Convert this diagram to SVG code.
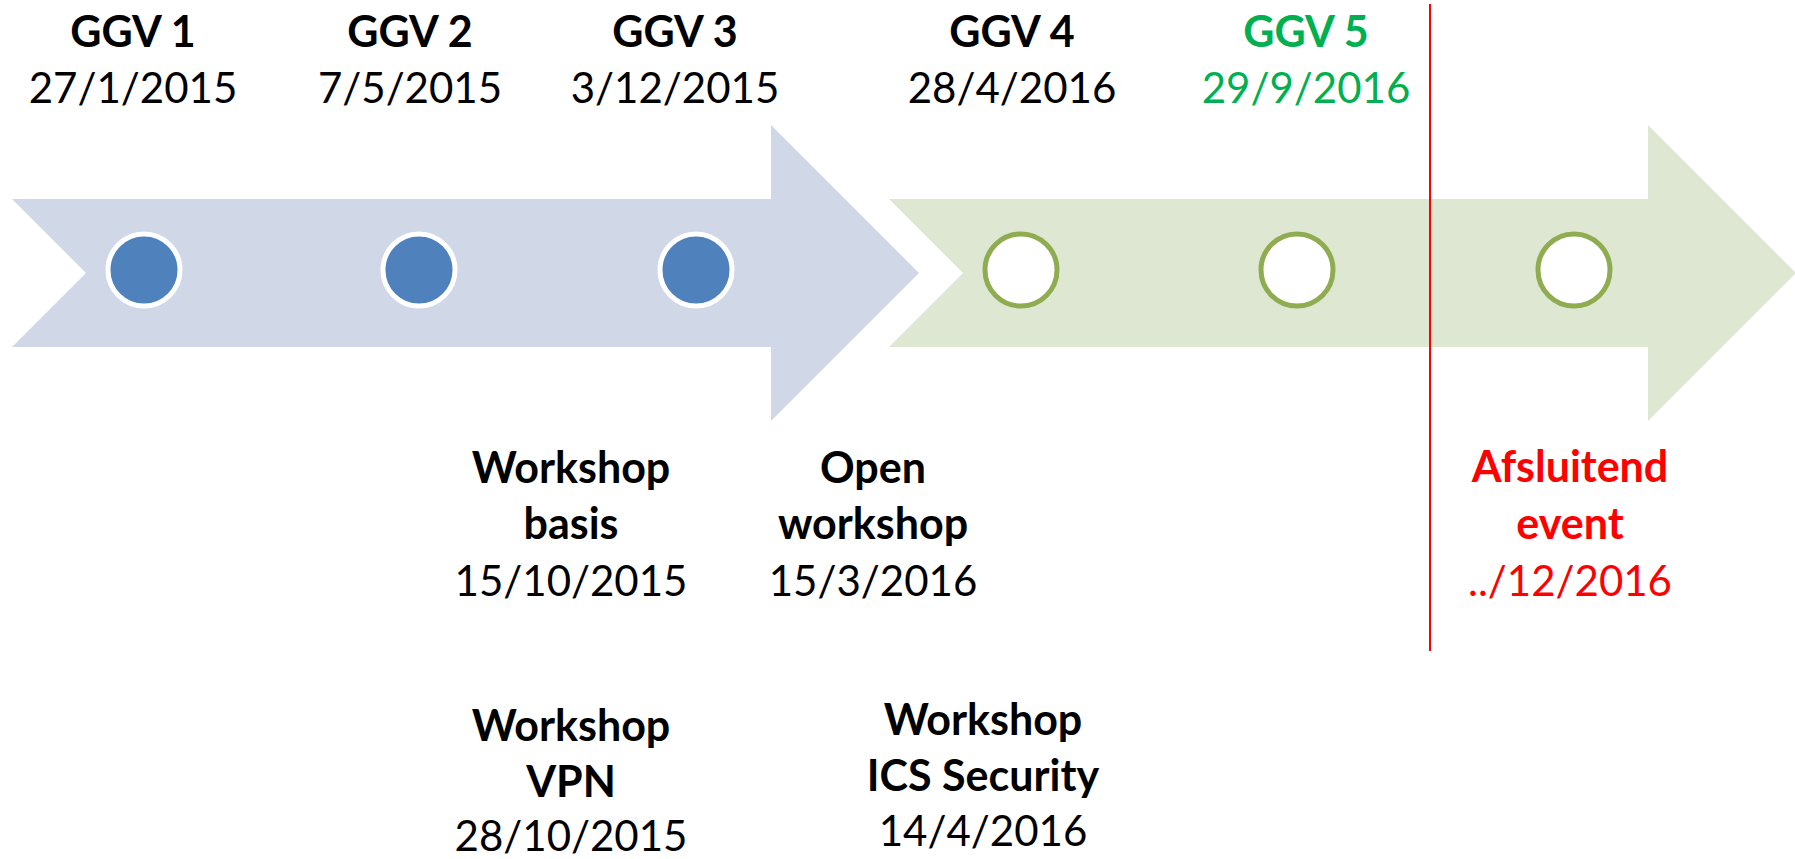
<svg xmlns="http://www.w3.org/2000/svg" width="1795" height="859" viewBox="0 0 1795 859">
<style>
text{font-family:Lato,"Open Sans","Liberation Sans",sans-serif;font-size:42px;text-anchor:middle;fill:#000}
.b{font-weight:bold;font-size:43px}
.g{fill:#00B050}
.r{fill:#FF0000}
.done{fill:#4F81BD;stroke:#FFFFFF;stroke-width:5}
.todo{fill:#FFFFFF;stroke:#8FAC50;stroke-width:5}
</style>
<rect width="1795" height="859" fill="#FFFFFF"/>
<g id="timeline">
<polygon id="arrow-2015" points="12,199 771,199 771,125 919,273 771,421 771,347 12,347 86,273" fill="#D0D8E8"/>
<polygon id="arrow-2016" points="889,199 1648,199 1648,125 1796,273 1648,421 1648,347 889,347 963,273" fill="#DEE7D1"/>
</g>
<g id="connectors">
<line x1="1430" y1="4" x2="1430" y2="651" stroke="#FF0000" stroke-width="2"/>
</g>
<g id="ggv1"><circle class="done" cx="144" cy="270" r="36"/><text class="b" x="133" y="47">GGV 1</text><text x="133" y="103">27/1/2015</text></g>
<g id="ggv2"><circle class="done" cx="419" cy="270" r="36"/><text class="b" x="410" y="47">GGV 2</text><text x="410" y="103">7/5/2015</text></g>
<g id="ggv3"><circle class="done" cx="696" cy="270" r="36"/><text class="b" x="675" y="47">GGV 3</text><text x="675" y="103">3/12/2015</text></g>
<g id="ggv4"><circle class="todo" cx="1021" cy="270" r="36"/><text class="b" x="1012" y="47">GGV 4</text><text x="1012" y="103">28/4/2016</text></g>
<g id="ggv5"><circle class="todo" cx="1297" cy="270" r="36"/><text class="b g" x="1306" y="47">GGV 5</text><text class="g" x="1306" y="103">29/9/2016</text></g>
<g id="final-marker"><circle class="todo" cx="1574" cy="270" r="36"/></g>
<g id="ws-basis"><text class="b" x="571" y="483">Workshop</text><text class="b" x="571" y="539">basis</text><text x="571" y="596">15/10/2015</text></g>
<g id="ws-open"><text class="b" x="873" y="483">Open</text><text class="b" x="873" y="539">workshop</text><text x="873" y="596">15/3/2016</text></g>
<g id="afsluitend"><text class="b r" x="1570" y="482">Afsluitend</text><text class="b r" x="1570" y="539">event</text><text class="r" x="1570" y="596">../12/2016</text></g>
<g id="ws-vpn"><text class="b" x="571" y="741">Workshop</text><text class="b" x="571" y="797">VPN</text><text x="571" y="851">28/10/2015</text></g>
<g id="ws-ics"><text class="b" x="983" y="735">Workshop</text><text class="b" x="983" y="791">ICS Security</text><text x="983" y="846">14/4/2016</text></g>
</svg>
